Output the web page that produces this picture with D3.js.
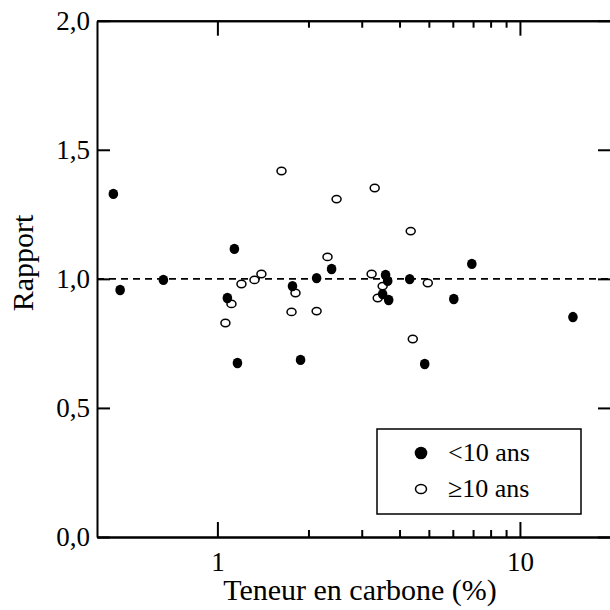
<!DOCTYPE html>
<html>
<head>
<meta charset="utf-8">
<script src="https://cdn.jsdelivr.net/npm/d3@7"></script>
<style>
  body { margin: 0; background: #fff; }
  svg { display: block; }
</style>
</head>
<body>
<div id="chart"></div>
<script>
// carbon content (%) and ratio, samples < 10 years
const carbonYoung = [0.453, 0.477, 0.663, 1.079, 1.138, 1.165, 1.771, 1.883, 2.128, 2.385,
                     3.597, 3.655, 3.517, 3.683, 4.322, 4.845, 6.045, 6.935, 14.97]
const ratioYoung  = [1.329, 0.957, 0.996, 0.926, 1.116, 0.674, 0.972, 0.686, 1.003, 1.038,
                     1.015, 0.992, 0.941, 0.918, 0.999, 0.670, 0.922, 1.058, 0.852]

// samples >= 10 years
const carbonOld = [1.063, 1.113, 1.201, 1.326, 1.398, 1.629, 1.758, 1.812, 2.128, 2.312,
                   2.477, 3.234, 3.311, 3.517, 3.388, 4.355, 4.96, 4.424]
const ratioOld  = [0.829, 0.903, 0.980, 0.996, 1.019, 1.418, 0.872, 0.945, 0.875, 1.085,
                   1.309, 1.019, 1.352, 0.972, 0.926, 1.185, 0.984, 0.767]

const yTicks = [0, 0.5, 1, 1.5, 2]
const xMajor = [1, 10]
const xMinor = [2, 3, 4, 5, 6, 7, 8, 9]
const legendLabels = ["<10 ans", "\u226510 ans"]

const youngData = carbonYoung.map((c, i) => ({c: c, r: ratioYoung[i]}))
const oldData = carbonOld.map((c, i) => ({c: c, r: ratioOld[i]}))

const FONT = "'Liberation Serif', 'Times New Roman', Times, 'DejaVu Serif', serif"
const W = 610, H = 610
const m = {left: 97, top: 20.7, right: 611, bottom: 537}

const svg = d3.select("#chart").append("svg")
    .attr("width", W)
    .attr("height", H)

const x = d3.scaleLog()
    .domain([0.4, 20])
    .range([m.left, m.right])

const y = d3.scaleLinear()
    .domain([0, 2])
    .range([m.bottom, m.top])

const fr = d3.formatLocale({decimal: ",", thousands: " ", grouping: [3], currency: ["", ""]})
const fmt = fr.format(".1f")

// reference line at 1
svg.append("line")
    .attr("x1", m.left).attr("x2", m.right)
    .attr("y1", y(1)).attr("y2", y(1))
    .attr("stroke", "#000")
    .attr("stroke-width", 1.6)
    .attr("stroke-dasharray", "7,5")

// axes
function styleAxis(sel) {
    sel.attr("font-family", FONT)
    sel.select(".domain").attr("stroke", "#000").attr("stroke-width", 2)
    sel.selectAll(".tick line").attr("stroke", "#000").attr("stroke-width", 2)
    sel.selectAll("text").attr("fill", "#000").style("font-family", FONT)
}

const bottomMajor = svg.append("g")
    .attr("transform", `translate(0, ${m.bottom})`)
    .call(d3.axisBottom(x).tickValues(xMajor).tickSize(-15).tickSizeOuter(0).tickPadding(15)
        .tickFormat(d => d))
    .call(styleAxis)
bottomMajor.attr("font-size", 27)

svg.append("g")
    .attr("transform", `translate(0, ${m.bottom})`)
    .call(d3.axisBottom(x).tickValues(xMinor).tickSize(-7).tickSizeOuter(0).tickFormat(""))
    .call(styleAxis)

svg.append("g")
    .attr("transform", `translate(0, ${m.top})`)
    .call(d3.axisTop(x).tickValues(xMajor).tickSize(-15).tickSizeOuter(0).tickFormat(""))
    .call(styleAxis)

svg.append("g")
    .attr("transform", `translate(0, ${m.top})`)
    .call(d3.axisTop(x).tickValues(xMinor).tickSize(-7).tickSizeOuter(0).tickFormat(""))
    .call(styleAxis)

const left = svg.append("g")
    .attr("transform", `translate(${m.left}, 0)`)
    .call(d3.axisLeft(y).tickValues(yTicks).tickSize(-13).tickSizeOuter(0).tickPadding(7)
        .tickFormat(fmt))
    .call(styleAxis)
left.attr("font-size", 27)

svg.append("g")
    .attr("transform", `translate(${m.right}, 0)`)
    .call(d3.axisRight(y).tickValues(yTicks).tickSize(-13).tickSizeOuter(0).tickFormat(""))
    .call(styleAxis)

// axis titles
svg.append("text")
    .attr("x", 360)
    .attr("y", 600)
    .attr("text-anchor", "middle")
    .attr("font-size", 30)
    .style("font-family", FONT)
    .text("Teneur en carbone (%)")

svg.append("text")
    .attr("transform", `translate(33, 263) rotate(-90)`)
    .attr("text-anchor", "middle")
    .attr("font-size", 30)
    .style("font-family", FONT)
    .text("Rapport")

// points
svg.selectAll(".old").data(oldData).enter().append("ellipse")
    .attr("class", "old")
    .attr("cx", d => x(d.c))
    .attr("cy", d => y(d.r))
    .attr("rx", 4.5)
    .attr("ry", 3.7)
    .attr("fill", "#fff")
    .attr("stroke", "#000")
    .attr("stroke-width", 1.5)

svg.selectAll(".young").data(youngData).enter().append("ellipse")
    .attr("class", "young")
    .attr("cx", d => x(d.c))
    .attr("cy", d => y(d.r))
    .attr("rx", 4.8)
    .attr("ry", 5.2)
    .attr("fill", "#000")

// legend
const lg = svg.append("g").attr("transform", "translate(377, 429)")
lg.append("rect")
    .attr("width", 204).attr("height", 85)
    .attr("fill", "#fff")
    .attr("stroke", "#000")
    .attr("stroke-width", 1.5)
lg.append("circle").attr("cx", 44).attr("cy", 24).attr("r", 6.3).attr("fill", "#000")
lg.append("ellipse").attr("cx", 44).attr("cy", 60).attr("rx", 5.5).attr("ry", 4.6)
    .attr("fill", "#fff").attr("stroke", "#000").attr("stroke-width", 1.5)
lg.selectAll(".lt").data(legendLabels).enter().append("text")
    .attr("x", 71)
    .attr("y", (d, i) => 32 + i * 36)
    .attr("font-size", 26)
    .style("font-family", FONT)
    .text(d => d)
</script>
</body>
</html>
